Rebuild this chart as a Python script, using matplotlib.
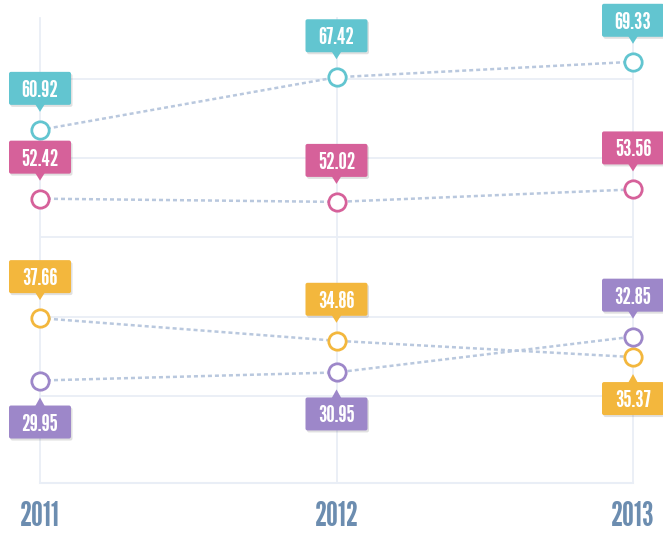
import matplotlib
matplotlib.use("Agg")
import matplotlib.pyplot as plt
from matplotlib.patches import FancyBboxPatch, Polygon
from matplotlib.transforms import IdentityTransform

# data
years = [2011, 2012, 2013]
year_labels = ["2011", "2012", "2013"]

cyan_vals = [60.92, 67.42, 69.33]
pink_vals = [52.42, 52.02, 53.56]
yellow_vals = [37.66, 34.86, 32.85]
purple_vals = [29.95, 30.95, 35.37]

cyan_text = ["60.92", "67.42", "69.33"]
pink_text = ["52.42", "52.02", "53.56"]
yellow_text = ["37.66", "34.86", "35.37"]
purple_text = ["29.95", "30.95", "32.85"]

# label side: 1 = above the point, -1 = below
cyan_side = [1, 1, 1]
pink_side = [1, 1, 1]
yellow_side = [1, 1, -1]
purple_side = [-1, -1, 1]

grid_vals = [28.04, 37.8, 47.68, 57.44, 67.2]

colors = {
    "cyan": "#62c5d0",
    "pink": "#d6619a",
    "yellow": "#f3b73d",
    "purple": "#9d87c9",
}
line_col = "#b9c8de"
grid_col = "#e9eef6"
year_col = "#6c8db0"

W, H = 663, 533
fig = plt.figure(figsize=(W / 100, H / 100), dpi=100)
ax = fig.add_axes([40 / W, (H - 483) / H, (633 - 40) / W, (483 - 18) / H])
ax.set_xlim(2011, 2013)
ax.set_ylim(17.29, 74.74)
ax.axis("off")

# grid
for g in grid_vals:
    ax.plot([2011, 2013], [g, g], color=grid_col, lw=1.3, zorder=0)
ax.plot([2011, 2013], [17.29, 17.29], color=grid_col, lw=1.5, zorder=0, clip_on=False)
for yr in years:
    ax.plot([yr, yr], [17.29, 74.74], color=grid_col, lw=1.3, zorder=0, clip_on=False)

series = [
    (cyan_vals, cyan_text, cyan_side, colors["cyan"]),
    (pink_vals, pink_text, pink_side, colors["pink"]),
    (yellow_vals, yellow_text, yellow_side, colors["yellow"]),
    (purple_vals, purple_text, purple_side, colors["purple"]),
]

for vals, _, _, col in series:
    ax.plot(years, vals, color=line_col, lw=1.8, ls=(0, (1.6, 1.2)),
            zorder=2, clip_on=False)
    ax.plot(years, vals, ls="none", marker="o", ms=12.5, mfc="white",
            mec=col, mew=2.0, zorder=3, clip_on=False)

label_font = ["League Gothic", "DejaVu Sans"]
bw, bh = 62, 33
ident = IdentityTransform()

for vals, texts, sides, col in series:
    for x, v, t, s in zip(years, vals, texts, sides):
        px, py = ax.transData.transform((x, v))
        if s > 0:
            b0 = py + 25
            tip = py + 18
            base = b0 + 1
        else:
            b0 = py - 25 - bh
            tip = py - 17
            base = b0 + bh - 1
        # shadow
        sh = FancyBboxPatch((px - bw / 2 + 1.5, b0 - 2), bw, bh,
                            boxstyle="round,pad=0,rounding_size=2",
                            fc="#000000", ec="none", alpha=0.12,
                            transform=ident, zorder=4)
        fig.add_artist(sh)
        box = FancyBboxPatch((px - bw / 2, b0), bw, bh,
                             boxstyle="round,pad=0,rounding_size=2",
                             fc=col, ec="none", transform=ident, zorder=5)
        fig.add_artist(box)
        tri = Polygon([(px - 5, base), (px + 5, base), (px, tip)],
                      closed=True, fc=col, ec="none", transform=ident, zorder=5)
        fig.add_artist(tri)
        fig.text(px, b0 + bh / 2, t, transform=ident, ha="center",
                 va="center_baseline", color="white", fontsize=17,
                 family=label_font, zorder=6)

for x, lab in zip(years, year_labels):
    px, _ = ax.transData.transform((x, 17.29))
    fig.text(px, H - 513, lab, transform=ident, ha="center",
             va="center_baseline", color=year_col, fontsize=24,
             family=label_font)

fig.savefig("out.png", dpi=100)
